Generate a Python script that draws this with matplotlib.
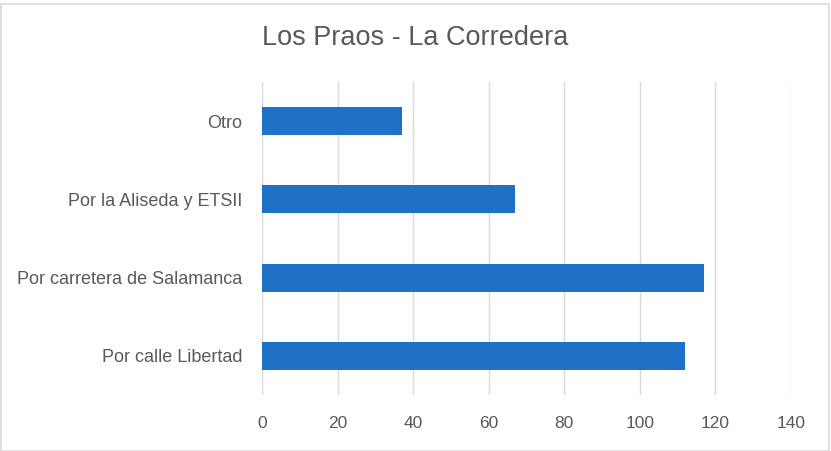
import matplotlib.pyplot as plt
from matplotlib.patches import Rectangle

# data
categorias = ['Por calle Libertad', 'Por carretera de Salamanca',
              'Por la Aliseda y ETSII', 'Otro']
valores = [112, 117, 67, 37]
ticks_x = [0, 20, 40, 60, 80, 100, 120, 140]

plt.rcParams['font.family'] = ['Liberation Sans', 'DejaVu Sans']
txt_color = '#595959'

fig = plt.figure(figsize=(8.31, 4.51), dpi=100)
ax = fig.add_axes([262/831, 56/451, 529/831, 313/451])

y = list(range(len(categorias)))
ax.barh(y, valores, height=0.36, color='#1F71C7', zorder=3)

ax.set_xlim(0, 140)
ax.set_ylim(-0.5, len(categorias) - 0.5)
ax.set_xticks(ticks_x)
ax.set_yticks(y)
ax.set_yticklabels(categorias)
ax.grid(axis='x', color='#D9D9D9', linewidth=1, zorder=0)
for s in ax.spines.values():
    s.set_visible(False)
ax.tick_params(axis='x', length=0, colors=txt_color, labelsize=12.5, pad=15)
ax.tick_params(axis='y', length=0, colors=txt_color, labelsize=13, pad=14)

fig.text(0.5, 1 - 38/451, 'Los Praos - La Corredera', ha='center', va='center',
         fontsize=19.5, color=txt_color)

# outer chart border
fig.patches.append(Rectangle((0.5/831, 0.5/451), 1 - 3/831, 1 - 4/451,
                             transform=fig.transFigure, fill=False,
                             edgecolor='#D9D9D9', linewidth=1.2))

fig.savefig('out.png', dpi=100)
